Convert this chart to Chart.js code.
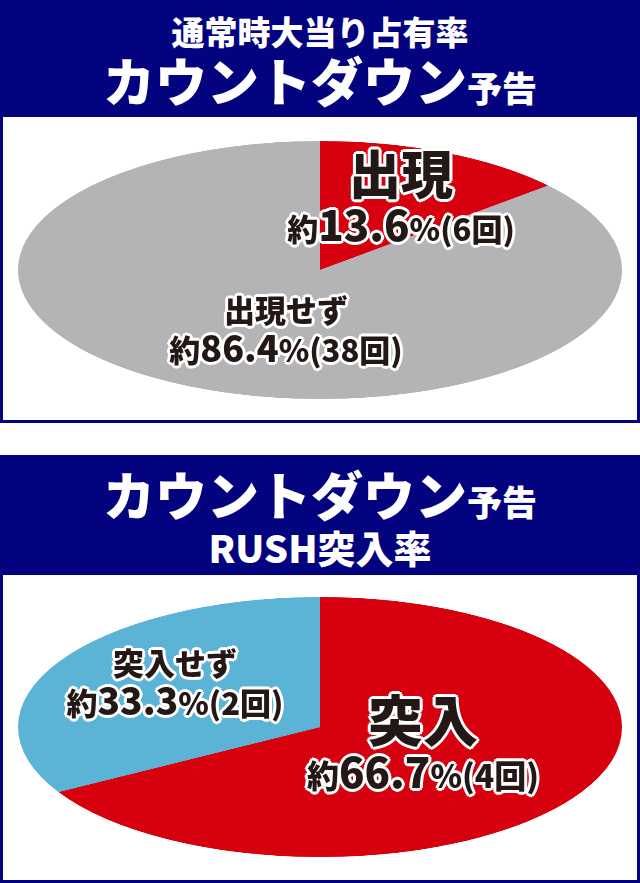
<!DOCTYPE html>
<html lang="ja">
<head>
<meta charset="utf-8">
<title>カウントダウン予告</title>
<script src="https://cdn.jsdelivr.net/npm/chart.js@4/dist/chart.umd.min.js"></script>
<style>
  html, body { margin: 0; padding: 0; background: #fff; }
  body { width: 640px; height: 883px; position: relative; overflow: hidden;
         font-family: "Noto Sans CJK JP", "Noto Sans", sans-serif; font-weight: 900; }
  .head { position: absolute; left: 0; width: 640px; background: #03037f; }
  .box  { position: absolute; left: 0; width: 640px; box-sizing: border-box;
          border: 3px solid #03037f; border-top: none; background: #fff; }
  .line { position: absolute; left: 0; width: 640px; text-align: center;
          color: #fff; line-height: 1; white-space: nowrap; }
  .pie  { position: absolute; left: 18px; width: 604px; height: 604px;
          transform-origin: 0 0; }
  .lbl  { position: absolute; color: #231815; line-height: 1; white-space: nowrap;
          transform: translateX(-50%); text-align: center;
          text-shadow: 2px 0 0 #fff, -2px 0 0 #fff, 0 2px 0 #fff, 0 -2px 0 #fff,
                       2px 2px 0 #fff, -2px -2px 0 #fff, 2px -2px 0 #fff, -2px 2px 0 #fff,
                       3px 0 0 #fff, -3px 0 0 #fff, 0 3px 0 #fff, 0 -3px 0 #fff; }
  .lbl div { display: block; }
</style>
</head>
<body>

<!-- panel 1 -->
<div class="head" style="top:0;height:117px"></div>
<div class="box" style="top:117px;height:306px"></div>
<div class="line" style="top:15px;font-size:33px">通常時大当り占有率</div>
<div class="line" style="top:54px"><span style="font-size:52px">カウントダウン</span><span style="font-size:35px">予告</span></div>
<div class="pie" id="wrapTop" style="top:141px;transform:scaleY(0.4272)"><canvas id="pieTop"></canvas></div>

<!-- panel 2 -->
<div class="head" style="top:455px;height:120px"></div>
<div class="box" style="top:575px;height:308px"></div>
<div class="line" style="top:468px"><span style="font-size:52px">カウントダウン</span><span style="font-size:35px">予告</span></div>
<div class="line" style="top:528px;font-size:38px">RUSH突入率</div>
<div class="pie" id="wrapBottom" style="top:597px;transform:scaleY(0.4305)"><canvas id="pieBottom"></canvas></div>

<div id="labels"></div>

<script>
  // ---- data ----
  const topLabels = ['出現', '出現せず'];
  const topCounts = [6, 38];
  const topColors = ['#d6000f', '#b4b4b6'];

  const bottomLabels = ['突入', '突入せず'];
  const bottomCounts = [4, 2];
  const bottomColors = ['#d6000f', '#5bb3d6'];

  // label placement (centre x, top y, name size, number size, small size)
  const topLabelPos = [
    { x: 401, y: 146, name: 52, num: 42, small: 31 },
    { x: 286, y: 293, name: 31, num: 36, small: 31 }
  ];
  const bottomLabelPos = [
    { x: 423, y: 690, name: 55, num: 42, small: 32 },
    { x: 175, y: 646, name: 31, num: 37, small: 31 }
  ];

  function makePie(id, labels, counts, colors) {
    return new Chart(document.getElementById(id), {
      type: 'pie',
      data: {
        labels: labels,
        datasets: [{
          data: counts,
          backgroundColor: colors,
          borderWidth: 0,
        }],
      },
      options: {
        responsive: true,
        maintainAspectRatio: false,
        animation: false,
        events: [],
        layout: { padding: 0 },
        plugins: {
          legend: { display: false },
          tooltip: { enabled: false },
        },
      },
    });
  }

  function addLabels(labels, counts, pos) {
    const total = counts.reduce((a, b) => a + b, 0);
    const host = document.getElementById('labels');
    labels.forEach((name, i) => {
      const p = pos[i];
      const pct = (counts[i] / total * 100).toFixed(1);
      const el = document.createElement('div');
      el.className = 'lbl';
      el.style.left = p.x + 'px';
      el.style.top = p.y + 'px';
      el.innerHTML =
        `<div style="font-size:${p.name}px">${name}</div>` +
        `<div style="margin-top:4px"><span style="font-size:${p.small}px">約</span>` +
        `<span style="font-size:${p.num}px">${pct}</span>` +
        `<span style="font-size:${p.small}px">%(${counts[i]}回)</span></div>`;
      host.appendChild(el);
    });
  }

  makePie('pieTop', topLabels, topCounts, topColors);
  makePie('pieBottom', bottomLabels, bottomCounts, bottomColors);
  addLabels(topLabels, topCounts, topLabelPos);
  addLabels(bottomLabels, bottomCounts, bottomLabelPos);
</script>
</body>
</html>
